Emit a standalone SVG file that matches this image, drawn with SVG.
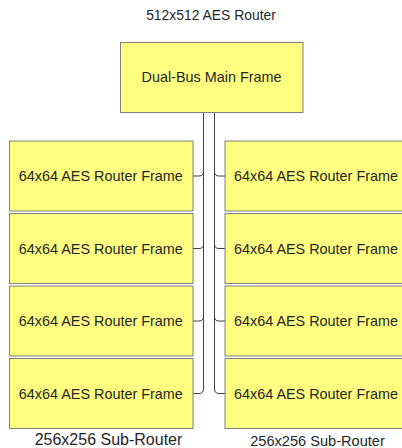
<svg xmlns="http://www.w3.org/2000/svg" width="402" height="448" viewBox="0 0 402 448">
<style>
.box{fill:#ffff80;stroke:#7f7f7f;stroke-width:1}
.t{font-family:"Liberation Sans",Arial,sans-serif;fill:#262626;text-anchor:middle}
.bt{font-size:14.4px}
.c{fill:none;stroke:#404040;stroke-width:1}
</style>
<rect width="402" height="448" fill="#ffffff"/>
<g id="labels">
<text class="t" x="211" y="20" font-size="13.9">512x512 AES Router</text>
<text class="t" x="108.5" y="445" font-size="16">256x256 Sub-Router</text>
<text class="t" x="317.5" y="446" font-size="14.6">256x256 Sub-Router</text>
</g>
<g id="connectors">
<path class="c" d="M193 176 H199 Q203.5 176 203.5 171.5 V112"/>
<path class="c" d="M193 248.5 H199 Q203.5 248.5 203.5 244 V112"/>
<path class="c" d="M193 321 H199 Q203.5 321 203.5 316.5 V112"/>
<path class="c" d="M193 393.5 H199 Q203.5 393.5 203.5 389 V112"/>
<path class="c" d="M225 176 H219 Q214.5 176 214.5 171.5 V112"/>
<path class="c" d="M225 248.5 H219 Q214.5 248.5 214.5 244 V112"/>
<path class="c" d="M225 321 H219 Q214.5 321 214.5 316.5 V112"/>
<path class="c" d="M225 393.5 H219 Q214.5 393.5 214.5 389 V112"/>
</g>
<g id="main">
<rect class="box" x="120.5" y="42.5" width="182.5" height="70"/>
<text class="t bt" x="211.5" y="82">Dual-Bus Main Frame</text>
</g>
<g id="L1"><rect class="box" x="9.5" y="141" width="183.5" height="70"/><text class="t bt" x="100.8" y="181">64x64 AES Router Frame</text></g>
<g id="L2"><rect class="box" x="9.5" y="213.5" width="183.5" height="70"/><text class="t bt" x="100.8" y="253.5">64x64 AES Router Frame</text></g>
<g id="L3"><rect class="box" x="9.5" y="286" width="183.5" height="70"/><text class="t bt" x="100.8" y="326">64x64 AES Router Frame</text></g>
<g id="L4"><rect class="box" x="9.5" y="358.5" width="183.5" height="70"/><text class="t bt" x="100.8" y="398.5">64x64 AES Router Frame</text></g>
<g id="R1"><rect class="box" x="225" y="141" width="183.5" height="70"/><text class="t bt" x="316" y="181">64x64 AES Router Frame</text></g>
<g id="R2"><rect class="box" x="225" y="213.5" width="183.5" height="70"/><text class="t bt" x="316" y="253.5">64x64 AES Router Frame</text></g>
<g id="R3"><rect class="box" x="225" y="286" width="183.5" height="70"/><text class="t bt" x="316" y="326">64x64 AES Router Frame</text></g>
<g id="R4"><rect class="box" x="225" y="358.5" width="183.5" height="70"/><text class="t bt" x="316" y="398.5">64x64 AES Router Frame</text></g>
</svg>
